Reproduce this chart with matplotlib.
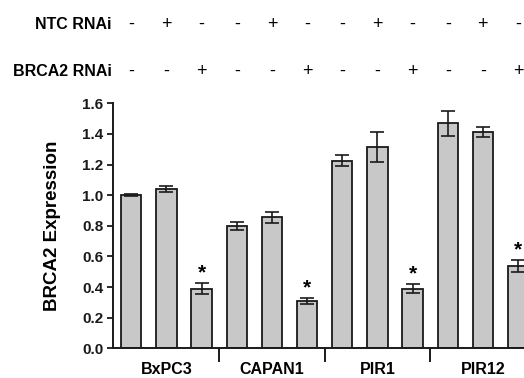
import matplotlib
matplotlib.use("Agg")
import matplotlib.pyplot as plt
import matplotlib.transforms as mtransforms

plt.rcParams['font.family'] = ['Liberation Sans', 'DejaVu Sans']

cell_lines = ['BxPC3', 'CAPAN1', 'PIR1', 'PIR12']
ntc_signs = ['-', '+', '-'] * 4
brca2_signs = ['-', '-', '+'] * 4
values = [1.00, 1.04, 0.39, 0.80, 0.855, 0.31, 1.225, 1.315, 0.39, 1.47, 1.41, 0.535]
errors = [0.006, 0.018, 0.034, 0.027, 0.036, 0.02, 0.037, 0.098, 0.03, 0.083, 0.032, 0.039]
starred = [2, 5, 8, 11]

fig = plt.figure(figsize=(5.24, 3.78), dpi=100)
ax = fig.add_axes([0.2156, 0.0786, 0.7844, 0.6481])

x = list(range(len(values)))
ax.bar(x, values, width=0.58, color='#c8c8c8', edgecolor='#1a1a1a', linewidth=1.3,
       yerr=errors, capsize=5, error_kw=dict(elinewidth=1.2, capthick=1.2, ecolor='#1a1a1a'))

for i in starred:
    ax.text(i, values[i] + errors[i] + 0.005, '*', ha='center', va='bottom',
            fontsize=15, fontweight='bold')

ax.set_xlim(-0.52, 11.17)
ax.set_ylim(0, 1.6)
ax.set_yticks([0.0, 0.2, 0.4, 0.6, 0.8, 1.0, 1.2, 1.4, 1.6])
ax.set_yticklabels(['%.1f' % v for v in ax.get_yticks()], fontsize=11, fontweight='bold')
ax.set_xticks([])
ax.tick_params(axis='y', length=4, width=1.3, pad=3, colors='#1a1a1a')
for s in ['top', 'right']:
    ax.spines[s].set_visible(False)
for s in ['left', 'bottom']:
    ax.spines[s].set_linewidth(1.4)
    ax.spines[s].set_color('#1a1a1a')

ax.set_ylabel('BRCA2 Expression', fontsize=13.5, fontweight='bold', labelpad=15)

# group separators and labels
trans = mtransforms.blended_transform_factory(ax.transData, ax.transAxes)
for g in range(1, len(cell_lines)):
    xs = 3 * g - 0.5
    ax.plot([xs, xs], [0, -0.053], transform=trans, color='#1a1a1a', lw=1.4, clip_on=False)
for g, name in enumerate(cell_lines):
    ax.text(3 * g + 1, -0.058, name, transform=trans, ha='center', va='top',
            fontsize=11.5, fontweight='bold')

# treatment rows
ftrans = mtransforms.blended_transform_factory(ax.transData, fig.transFigure)
fig.text(0.2137, 0.9365, 'NTC RNAi', ha='right', va='center', fontsize=11.5, fontweight='bold')
fig.text(0.2137, 0.812, 'BRCA2 RNAi', ha='right', va='center', fontsize=11.5, fontweight='bold')
for i in x:
    ax.text(i, 0.9365, ntc_signs[i], transform=ftrans, ha='center', va='center', fontsize=13)
    ax.text(i, 0.812, brca2_signs[i], transform=ftrans, ha='center', va='center', fontsize=13)

fig.savefig('out.png', dpi=100)
